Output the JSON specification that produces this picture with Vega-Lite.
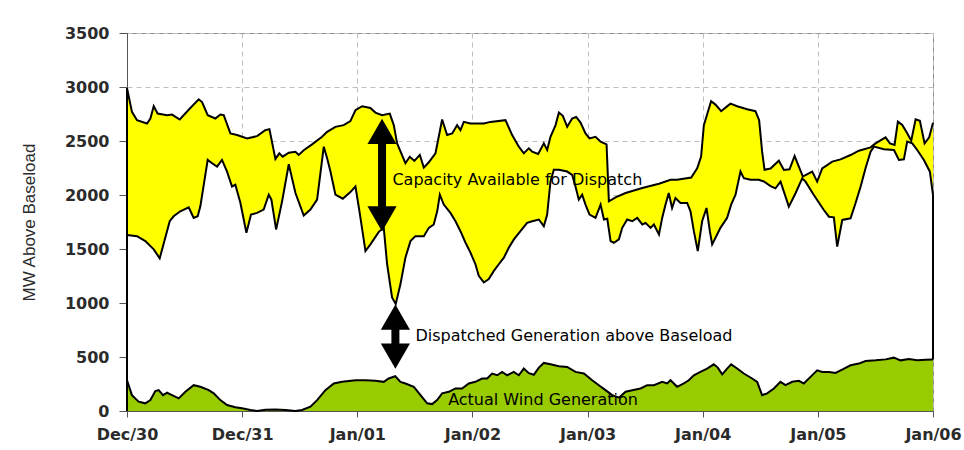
{
"$schema": "https://vega.github.io/schema/vega-lite/v6.json",
"width": 806, "height": 378,
"autosize": {"type": "none"},
"padding": {"left": 127, "top": 33, "right": 31, "bottom": 39},
"background": "white",
"config": {
  "view": {"stroke": "#8c8c8c", "strokeWidth": 1},
  "axis": {"labelFont": "DejaVu Sans", "labelFontWeight": "bold", "labelFontSize": 16, "labelColor": "#2b2b2b", "domainColor": "#555555", "tickColor": "#555555", "gridColor": "#bdbdbd", "gridDash": [5, 4], "gridWidth": 1}
},
"datasets": {
  "upper": [
    {"d":0,"v":2990},{"d":0.043,"v":2770},{"d":0.087,"v":2693},{"d":0.174,"v":2662},{"d":0.203,"v":2708},{"d":0.232,"v":2822},{"d":0.266,"v":2754},{"d":0.348,"v":2739},{"d":0.391,"v":2745},{"d":0.458,"v":2699},{"d":0.55,"v":2806},{"d":0.623,"v":2886},{"d":0.652,"v":2861},{"d":0.701,"v":2739},{"d":0.767,"v":2708},{"d":0.811,"v":2745},{"d":0.84,"v":2740},{"d":0.898,"v":2570},{"d":0.956,"v":2555},{"d":1.043,"v":2524},{"d":1.13,"v":2545},{"d":1.2,"v":2600},{"d":1.237,"v":2610},{"d":1.289,"v":2334},{"d":1.323,"v":2386},{"d":1.352,"v":2355},{"d":1.405,"v":2392},{"d":1.463,"v":2401},{"d":1.491,"v":2371},{"d":1.535,"v":2414},{"d":1.607,"v":2469},{"d":1.694,"v":2539},{"d":1.738,"v":2585},{"d":1.81,"v":2631},{"d":1.882,"v":2647},{"d":1.94,"v":2684},{"d":1.984,"v":2785},{"d":2.042,"v":2822},{"d":2.114,"v":2806},{"d":2.157,"v":2763},{"d":2.215,"v":2739},{"d":2.282,"v":2754},{"d":2.317,"v":2647},{"d":2.346,"v":2478},{"d":2.418,"v":2294},{"d":2.456,"v":2355},{"d":2.496,"v":2316},{"d":2.543,"v":2371},{"d":2.578,"v":2254},{"d":2.621,"v":2303},{"d":2.679,"v":2386},{"d":2.737,"v":2699},{"d":2.78,"v":2555},{"d":2.824,"v":2570},{"d":2.867,"v":2647},{"d":2.896,"v":2601},{"d":2.925,"v":2677},{"d":2.983,"v":2662},{"d":3.099,"v":2662},{"d":3.157,"v":2677},{"d":3.287,"v":2693},{"d":3.345,"v":2555},{"d":3.403,"v":2447},{"d":3.446,"v":2386},{"d":3.49,"v":2432},{"d":3.519,"v":2401},{"d":3.571,"v":2380},{"d":3.62,"v":2478},{"d":3.649,"v":2417},{"d":3.678,"v":2539},{"d":3.722,"v":2647},{"d":3.751,"v":2763},{"d":3.785,"v":2733},{"d":3.823,"v":2631},{"d":3.866,"v":2708},{"d":3.901,"v":2723},{"d":3.939,"v":2671},{"d":3.982,"v":2570},{"d":4.017,"v":2524},{"d":4.069,"v":2539},{"d":4.113,"v":2493},{"d":4.165,"v":2469},{"d":4.185,"v":1941},{"d":4.243,"v":1978},{"d":4.33,"v":2018},{"d":4.475,"v":2064},{"d":4.62,"v":2104},{"d":4.721,"v":2141},{"d":4.778,"v":2141},{"d":4.9,"v":2162},{"d":4.952,"v":2248},{"d":4.986,"v":2355},{"d":5.01,"v":2647},{"d":5.038,"v":2745},{"d":5.073,"v":2868},{"d":5.111,"v":2837},{"d":5.16,"v":2776},{"d":5.206,"v":2816},{"d":5.241,"v":2846},{"d":5.299,"v":2822},{"d":5.386,"v":2794},{"d":5.458,"v":2776},{"d":5.49,"v":2693},{"d":5.516,"v":2401},{"d":5.537,"v":2233},{"d":5.589,"v":2245},{"d":5.661,"v":2318},{"d":5.705,"v":2232},{"d":5.754,"v":2238},{"d":5.798,"v":2361},{"d":5.835,"v":2262},{"d":5.87,"v":2170},{"d":5.893,"v":2185},{"d":5.951,"v":2216},{"d":5.994,"v":2124},{"d":6.038,"v":2247},{"d":6.125,"v":2309},{"d":6.197,"v":2330},{"d":6.284,"v":2370},{"d":6.356,"v":2410},{"d":6.458,"v":2441},{"d":6.501,"v":2478},{"d":6.588,"v":2534},{"d":6.626,"v":2478},{"d":6.666,"v":2463},{"d":6.695,"v":2679},{"d":6.733,"v":2648},{"d":6.776,"v":2571},{"d":6.811,"v":2503},{"d":6.849,"v":2701},{"d":6.886,"v":2688},{"d":6.927,"v":2478},{"d":6.967,"v":2534},{"d":7,"v":2670}
  ],
  "lower": [
    {"d":0,"v":1629},{"d":0.087,"v":1619},{"d":0.159,"v":1573},{"d":0.232,"v":1497},{"d":0.284,"v":1414},{"d":0.313,"v":1527},{"d":0.371,"v":1757},{"d":0.405,"v":1803},{"d":0.463,"v":1849},{"d":0.536,"v":1886},{"d":0.579,"v":1788},{"d":0.614,"v":1803},{"d":0.637,"v":1895},{"d":0.701,"v":2325},{"d":0.739,"v":2294},{"d":0.782,"v":2263},{"d":0.825,"v":2325},{"d":0.869,"v":2217},{"d":0.912,"v":2079},{"d":0.941,"v":2095},{"d":0.985,"v":1926},{"d":1.037,"v":1650},{"d":1.077,"v":1819},{"d":1.13,"v":1834},{"d":1.187,"v":1865},{"d":1.231,"v":2003},{"d":1.254,"v":1957},{"d":1.295,"v":1681},{"d":1.347,"v":1941},{"d":1.405,"v":2285},{"d":1.463,"v":2018},{"d":1.535,"v":1810},{"d":1.593,"v":1865},{"d":1.651,"v":1957},{"d":1.709,"v":2447},{"d":1.738,"v":2340},{"d":1.767,"v":2217},{"d":1.81,"v":2003},{"d":1.874,"v":1966},{"d":1.94,"v":2027},{"d":1.984,"v":2079},{"d":2.019,"v":1849},{"d":2.071,"v":1481},{"d":2.114,"v":1543},{"d":2.187,"v":1659},{"d":2.23,"v":1696},{"d":2.259,"v":1359},{"d":2.302,"v":1052},{"d":2.334,"v":991},{"d":2.375,"v":1175},{"d":2.418,"v":1420},{"d":2.462,"v":1573},{"d":2.505,"v":1619},{"d":2.578,"v":1619},{"d":2.621,"v":1696},{"d":2.664,"v":1727},{"d":2.694,"v":1849},{"d":2.717,"v":2003},{"d":2.751,"v":1911},{"d":2.809,"v":1834},{"d":2.853,"v":1757},{"d":2.896,"v":1665},{"d":2.94,"v":1558},{"d":2.983,"v":1466},{"d":3.026,"v":1359},{"d":3.055,"v":1251},{"d":3.099,"v":1190},{"d":3.142,"v":1221},{"d":3.186,"v":1297},{"d":3.229,"v":1359},{"d":3.273,"v":1420},{"d":3.316,"v":1512},{"d":3.36,"v":1589},{"d":3.417,"v":1665},{"d":3.475,"v":1742},{"d":3.519,"v":1757},{"d":3.577,"v":1773},{"d":3.62,"v":1711},{"d":3.649,"v":1819},{"d":3.678,"v":2125},{"d":3.707,"v":2233},{"d":3.751,"v":2233},{"d":3.823,"v":2217},{"d":3.866,"v":2187},{"d":3.895,"v":2079},{"d":3.924,"v":1957},{"d":3.953,"v":2003},{"d":3.982,"v":1911},{"d":4.017,"v":1819},{"d":4.069,"v":1788},{"d":4.113,"v":1911},{"d":4.142,"v":1773},{"d":4.171,"v":1780},{"d":4.2,"v":1573},{"d":4.228,"v":1558},{"d":4.272,"v":1589},{"d":4.301,"v":1696},{"d":4.344,"v":1773},{"d":4.388,"v":1757},{"d":4.431,"v":1788},{"d":4.475,"v":1727},{"d":4.504,"v":1742},{"d":4.547,"v":1696},{"d":4.576,"v":1727},{"d":4.62,"v":1635},{"d":4.648,"v":1788},{"d":4.677,"v":1911},{"d":4.705,"v":2018},{"d":4.734,"v":1880},{"d":4.763,"v":1972},{"d":4.807,"v":1926},{"d":4.865,"v":1926},{"d":4.894,"v":1849},{"d":4.923,"v":1665},{"d":4.957,"v":1481},{"d":4.995,"v":1757},{"d":5.033,"v":1880},{"d":5.062,"v":1665},{"d":5.082,"v":1543},{"d":5.111,"v":1604},{"d":5.154,"v":1696},{"d":5.212,"v":1788},{"d":5.247,"v":1911},{"d":5.285,"v":2003},{"d":5.328,"v":2217},{"d":5.357,"v":2156},{"d":5.415,"v":2141},{"d":5.487,"v":2141},{"d":5.531,"v":2125},{"d":5.589,"v":2083},{"d":5.632,"v":2062},{"d":5.676,"v":2124},{"d":5.748,"v":1892},{"d":5.806,"v":2016},{"d":5.864,"v":2154},{"d":5.893,"v":2124},{"d":5.965,"v":2000},{"d":6.052,"v":1861},{"d":6.096,"v":1799},{"d":6.139,"v":1793},{"d":6.168,"v":1522},{"d":6.212,"v":1769},{"d":6.284,"v":1784},{"d":6.327,"v":1923},{"d":6.371,"v":2077},{"d":6.414,"v":2247},{"d":6.458,"v":2401},{"d":6.487,"v":2448},{"d":6.574,"v":2423},{"d":6.661,"v":2417},{"d":6.704,"v":2324},{"d":6.747,"v":2330},{"d":6.776,"v":2494},{"d":6.82,"v":2478},{"d":6.863,"v":2417},{"d":6.921,"v":2324},{"d":6.973,"v":2216},{"d":7,"v":2000}
  ],
  "wind": [
    {"d":0,"v":285},{"d":0.043,"v":147},{"d":0.101,"v":86},{"d":0.159,"v":71},{"d":0.203,"v":101},{"d":0.246,"v":184},{"d":0.275,"v":193},{"d":0.313,"v":147},{"d":0.348,"v":169},{"d":0.391,"v":147},{"d":0.449,"v":117},{"d":0.507,"v":178},{"d":0.579,"v":239},{"d":0.637,"v":224},{"d":0.71,"v":193},{"d":0.753,"v":163},{"d":0.811,"v":101},{"d":0.869,"v":55},{"d":0.941,"v":34},{"d":0.999,"v":25},{"d":1.072,"v":9},{"d":1.13,"v":0},{"d":1.202,"v":12},{"d":1.289,"v":15},{"d":1.376,"v":9},{"d":1.463,"v":0},{"d":1.52,"v":9},{"d":1.593,"v":40},{"d":1.651,"v":101},{"d":1.723,"v":193},{"d":1.796,"v":255},{"d":1.868,"v":270},{"d":1.984,"v":285},{"d":2.071,"v":285},{"d":2.157,"v":279},{"d":2.23,"v":270},{"d":2.273,"v":301},{"d":2.33,"v":322},{"d":2.375,"v":270},{"d":2.418,"v":255},{"d":2.491,"v":224},{"d":2.549,"v":147},{"d":2.607,"v":71},{"d":2.65,"v":64},{"d":2.693,"v":101},{"d":2.737,"v":163},{"d":2.795,"v":178},{"d":2.853,"v":209},{"d":2.91,"v":209},{"d":2.968,"v":255},{"d":3.026,"v":270},{"d":3.084,"v":301},{"d":3.128,"v":301},{"d":3.171,"v":347},{"d":3.215,"v":331},{"d":3.258,"v":362},{"d":3.302,"v":331},{"d":3.359,"v":362},{"d":3.403,"v":331},{"d":3.446,"v":393},{"d":3.49,"v":350},{"d":3.533,"v":335},{"d":3.577,"v":402},{"d":3.62,"v":445},{"d":3.678,"v":432},{"d":3.751,"v":414},{"d":3.823,"v":408},{"d":3.895,"v":362},{"d":3.968,"v":347},{"d":4.04,"v":285},{"d":4.098,"v":239},{"d":4.156,"v":193},{"d":4.214,"v":147},{"d":4.272,"v":123},{"d":4.33,"v":178},{"d":4.388,"v":193},{"d":4.46,"v":209},{"d":4.518,"v":239},{"d":4.576,"v":239},{"d":4.648,"v":270},{"d":4.691,"v":255},{"d":4.72,"v":285},{"d":4.778,"v":224},{"d":4.836,"v":255},{"d":4.879,"v":285},{"d":4.923,"v":331},{"d":4.98,"v":362},{"d":5.038,"v":393},{"d":5.096,"v":432},{"d":5.131,"v":402},{"d":5.169,"v":340},{"d":5.212,"v":393},{"d":5.247,"v":432},{"d":5.299,"v":393},{"d":5.357,"v":347},{"d":5.429,"v":301},{"d":5.473,"v":270},{"d":5.516,"v":147},{"d":5.56,"v":163},{"d":5.618,"v":209},{"d":5.675,"v":270},{"d":5.719,"v":239},{"d":5.777,"v":270},{"d":5.835,"v":279},{"d":5.878,"v":255},{"d":5.936,"v":316},{"d":5.994,"v":377},{"d":6.038,"v":362},{"d":6.096,"v":362},{"d":6.153,"v":353},{"d":6.211,"v":383},{"d":6.284,"v":423},{"d":6.356,"v":439},{"d":6.414,"v":463},{"d":6.501,"v":469},{"d":6.588,"v":478},{"d":6.66,"v":494},{"d":6.718,"v":469},{"d":6.791,"v":481},{"d":6.863,"v":469},{"d":6.935,"v":475},{"d":7,"v":478}
  ],
  "edges": [{"d":0,"v":0,"v2":2990},{"d":7,"v":478,"v2":2000}],
  "shafts": [{"d":2.215,"v":2590,"v2":1780},{"d":2.331,"v":870,"v2":507}],
  "headsUp": [{"d":2.215,"v":2590},{"d":2.331,"v":870}],
  "headsDown": [{"d":2.215,"v":1780},{"d":2.331,"v":507}],
  "notes": [
    {"d":2.305,"v":2140,"t":"Capacity Available for Dispatch"},
    {"d":2.505,"v":697,"t":"Dispatched Generation above Baseload"},
    {"d":2.789,"v":102,"t":"Actual Wind Generation"}
  ]
},
"encoding": {
  "x": {"field": "d", "type": "quantitative", "scale": {"domain": [0, 7], "nice": false, "zero": false},
        "axis": {"values": [0,1,2,3,4,5,6,7], "labelExpr": "['Dec/30','Dec/31','Jan/01','Jan/02','Jan/03','Jan/04','Jan/05','Jan/06'][datum.value]", "title": null, "grid": true, "tickSize": 6, "labelPadding": 9, "labelFlush": false, "labelOverlap": false}},
  "y": {"field": "v", "type": "quantitative", "title": "MW Above Baseload", "scale": {"domain": [0, 3500], "nice": false},
        "axis": {"values": [0,500,1000,1500,2000,2500,3000,3500], "format": "d", "tickSize": 8, "labelPadding": 10, "titleFont": "Liberation Sans", "titleFontSize": 17, "titleFontWeight": "normal", "titleColor": "#2b2b2b", "titlePadding": 26, "grid": true}}
},
"layer": [
  {"data": {"name": "upper"}, "mark": {"type": "area", "color": "#ffff00", "opacity": 1}},
  {"data": {"name": "lower"}, "mark": {"type": "area", "color": "#ffffff", "opacity": 1}},
  {"data": {"name": "wind"}, "mark": {"type": "area", "color": "#99cc00", "opacity": 1}},
  {"data": {"name": "upper"}, "mark": {"type": "line", "color": "#000000", "strokeWidth": 2}},
  {"data": {"name": "lower"}, "mark": {"type": "line", "color": "#000000", "strokeWidth": 2}},
  {"data": {"name": "wind"}, "mark": {"type": "line", "color": "#000000", "strokeWidth": 2}},
  {"data": {"name": "edges"}, "mark": {"type": "rule", "color": "#000000", "strokeWidth": 2},
   "encoding": {"y": {"field": "v", "type": "quantitative", "title": "MW Above Baseload"}, "y2": {"field": "v2"}}},
  {"data": {"name": "shafts"}, "mark": {"type": "rule", "color": "#000000", "strokeWidth": 8},
   "encoding": {"y": {"field": "v", "type": "quantitative", "title": "MW Above Baseload"}, "y2": {"field": "v2"}}},
  {"data": {"name": "headsUp"}, "mark": {"type": "point", "shape": "triangle-up", "filled": true, "size": 850, "color": "#000000", "opacity": 1}},
  {"data": {"name": "headsDown"}, "mark": {"type": "point", "shape": "triangle-down", "filled": true, "size": 850, "color": "#000000", "opacity": 1}},
  {"data": {"name": "notes"}, "mark": {"type": "text", "align": "left", "baseline": "middle", "font": "DejaVu Sans", "fontSize": 16, "color": "#000000"},
   "encoding": {"text": {"field": "t", "type": "nominal"}}}
]
}
